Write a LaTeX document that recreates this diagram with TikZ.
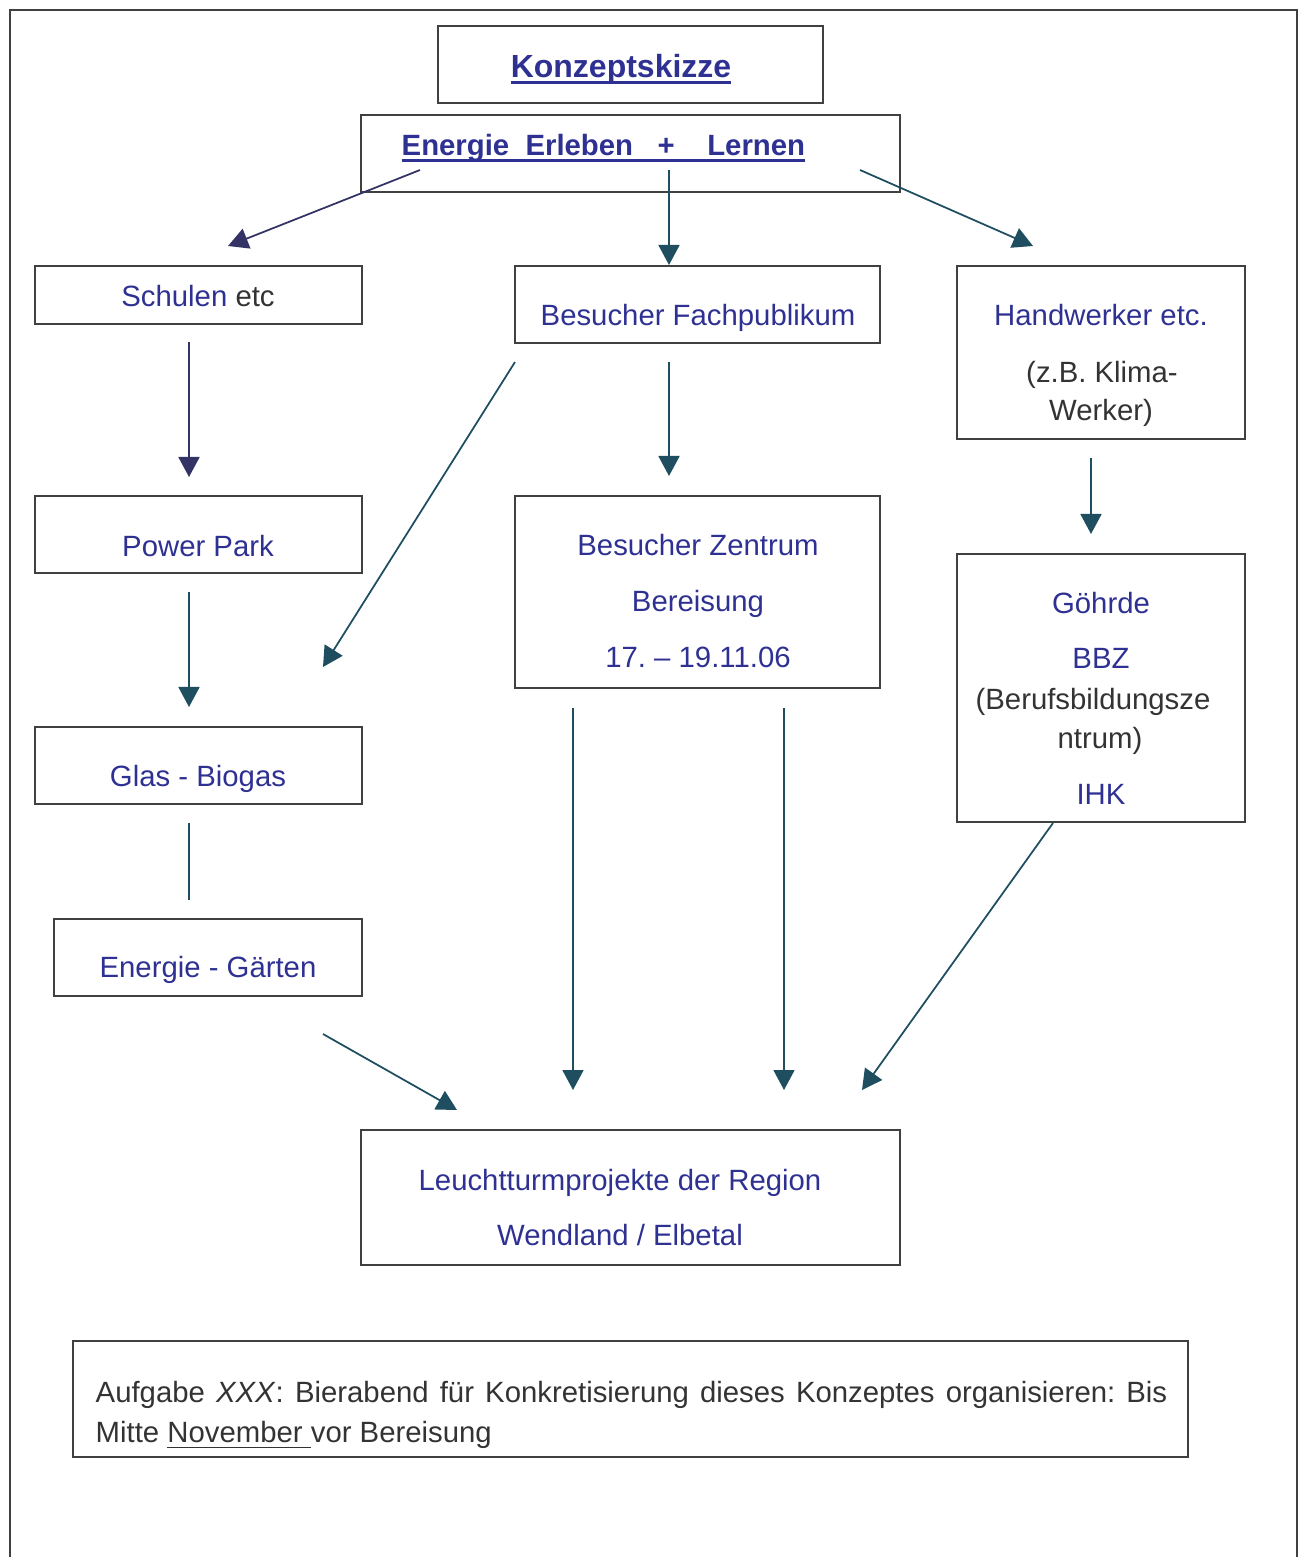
\documentclass[tikz,border=0pt]{standalone}
\usepackage{fontspec}
\setmainfont{Liberation Sans}
\usetikzlibrary{arrows.meta}
\usetikzlibrary{positioning}
\frenchspacing

\definecolor{textblau}{RGB}{46,49,146}
\definecolor{textgrau}{RGB}{51,51,51}
\definecolor{rahmengrau}{RGB}{64,64,64}
\definecolor{pfeilblau}{RGB}{51,51,102}
\definecolor{pfeilpetrol}{RGB}{31,78,96}

\newcommand{\strich}[1]{\setbox0=\hbox{#1}\rlap{\rule[-2pt]{\wd0}{0.9pt}}\box0}

\tikzset{
	kasten/.style={draw=rahmengrau, line width=0.6pt, inner sep=0pt},
	txt/.style={text=textblau, anchor=base, inner sep=0pt, font=\fontsize{8.34}{10}\selectfont},
	gtxt/.style={txt, text=textgrau},
	pfeil/.style={draw=pfeilpetrol, line width=0.5pt, -{Triangle[length=0.2cm,width=0.21cm]}},
	npfeil/.style={pfeil, draw=pfeilblau, -{Triangle[length=0.2cm,width=0.21cm]}}
}

\begin{document}
\begin{tikzpicture}[x=0.01cm,y=-0.01cm]
		\useasboundingbox (0,0) rectangle (1303,1557);
		% Rahmen
		\draw[rahmengrau, line width=0.6pt] (10,1557) -- (10,10) -- (1297,10) -- (1297,1557);

		% Kaesten
		\node[kasten, minimum width=3.85cm, minimum height=0.77cm] (titel) at (630.5,64.5) {};
		\node[kasten, minimum width=5.39cm, minimum height=0.77cm] (motto) at (630.5,153.5) {};
		\node[kasten, minimum width=3.27cm, minimum height=0.58cm] (schulen) at (198.5,295) {};
		\node[kasten, minimum width=3.65cm, minimum height=0.77cm] (fach) at (697.5,304.5) {};
		\node[kasten, minimum width=2.88cm, minimum height=1.73cm] (handwerk) at (1101,352.5) {};
		\node[kasten, minimum width=3.27cm, minimum height=0.77cm] (powerpark) at (198.5,534.5) {};
		\node[kasten, minimum width=3.65cm, minimum height=1.92cm] (zentrum) at (697.5,592) {};
		\node[kasten, minimum width=2.88cm, minimum height=2.68cm] (goehrde) at (1101,688) {};
		\node[kasten, minimum width=3.27cm, minimum height=0.77cm] (glas) at (198.5,765.5) {};
		\node[kasten, minimum width=3.08cm, minimum height=0.77cm] (gaerten) at (208,957.5) {};
		\node[kasten, minimum width=5.39cm, minimum height=1.35cm] (leucht) at (630.5,1197.5) {};
		\node[kasten, minimum width=11.15cm, minimum height=1.16cm] (aufgabe) at (630.5,1399) {};

		% Texte
		\node[txt, font=\fontsize{9.1}{11}\bfseries] (titelT) at (621,77) {\strich{Konzeptskizze}};
		\node[txt, anchor=base west, font=\fontsize{8.34}{10}\bfseries] (mottoT) at (401,155) {\strich{Energie~~Erleben~~~+~~~~Lernen}};
		\node[txt] (schulenT) at (198,306) {Schulen \textcolor{textgrau}{etc}};
		\node[txt] (fachT) at (698,325) {Besucher Fachpublikum};
		\node[txt] (handwerkA) at (1101,325) {Handwerker etc.};
		\node[gtxt] (handwerkB) at (1102,382) {(z.B. Klima-};
		\node[gtxt] (handwerkC) at (1101,420) {Werker)};
		\node[txt] (powerparkT) at (198,556) {Power Park};
		\node[txt] (zentrumA) at (698,555) {Besucher Zentrum};
		\node[txt] (zentrumB) at (698,611) {Bereisung};
		\node[txt] (zentrumC) at (698,667) {17. – 19.11.06};
		\node[txt] (goehrdeA) at (1101,613) {Göhrde};
		\node[txt] (goehrdeB) at (1101,668) {BBZ};
		\node[gtxt] (goehrdeC) at (1093,709) {(Berufsbildungsze};
		\node[gtxt] (goehrdeD) at (1100,748) {ntrum)};
		\node[txt] (goehrdeE) at (1101,804) {IHK};
		\node[txt] (glasT) at (198,786) {Glas - Biogas};
		\node[txt] (gaertenT) at (208,977) {Energie - Gärten};
		\node[txt] (leuchtA) at (620,1190) {Leuchtturmprojekte der Region};
		\node[txt] (leuchtB) at (620,1245) {Wendland / Elbetal};
		\node[gtxt, anchor=base west] (aufgabeA) at (95,1402) {\makebox[10.71cm][s]{Aufgabe \textit{XXX}: Bierabend für Konkretisierung dieses Konzeptes organisieren: Bis}};
		\node[gtxt, anchor=base west] (aufgabeB) at (95,1442) {Mitte \underline{November }vor Bereisung};

		% Pfeilenden
		\coordinate (p1) at (420,170);   \coordinate (q1) at (228,246);
		\coordinate (p2) at (669,170);   \coordinate (q2) at (669,265);
		\coordinate (p3) at (860,170);   \coordinate (q3) at (1033,246);
		\coordinate (p4) at (189,342);   \coordinate (q4) at (189,477);
		\coordinate (p5) at (515,362);   \coordinate (q5) at (323,667);
		\coordinate (p6) at (669,362);   \coordinate (q6) at (669,476);
		\coordinate (p7) at (1091,458);  \coordinate (q7) at (1091,534);
		\coordinate (p8) at (189,592);   \coordinate (q8) at (189,707);
		\coordinate (p9) at (189,823);   \coordinate (q9) at (189,900);
		\coordinate (p10) at (323,1034); \coordinate (q10) at (457,1110);
		\coordinate (p11) at (573,708);  \coordinate (q11) at (573,1090);
		\coordinate (p12) at (784,708);  \coordinate (q12) at (784,1090);
		\coordinate (p13) at (1053,823); \coordinate (q13) at (862,1090);

		% Pfeile
		\draw[npfeil] (p1) -- (q1);
		\draw[pfeil] (p2) -- (q2);
		\draw[pfeil] (p3) -- (q3);
		\draw[npfeil] (p4) -- (q4);
		\draw[pfeil] (p5) -- (q5);
		\draw[pfeil] (p6) -- (q6);
		\draw[pfeil] (p7) -- (q7);
		\draw[pfeil] (p8) -- (q8);
		\draw[pfeilpetrol, line width=0.5pt] (p9) -- (q9);
		\draw[pfeil] (p10) -- (q10);
		\draw[pfeil] (p11) -- (q11);
		\draw[pfeil] (p12) -- (q12);
		\draw[pfeil] (p13) -- (q13);
\end{tikzpicture}
\end{document}
